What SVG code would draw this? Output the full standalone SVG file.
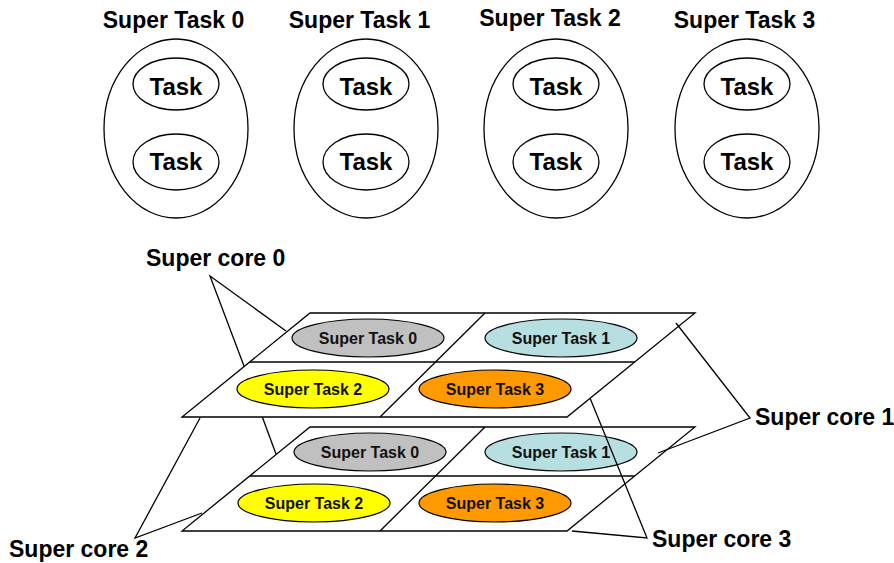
<svg xmlns="http://www.w3.org/2000/svg" width="894" height="563" viewBox="0 0 894 563">
  <style>
    .bg { fill: #ffffff; }
    .line { fill: none; stroke: #000; stroke-width: 1.3; }
    .shape { fill: #ffffff; stroke: #000; stroke-width: 1.3; }
    .title { font-family: "Liberation Sans", Arial, sans-serif; font-weight: bold; font-size: 23px; fill: #000; }
    .task { font-family: "Liberation Sans", Arial, sans-serif; font-weight: bold; font-size: 24px; fill: #000; text-anchor: middle; }
    .lbl { font-family: "Liberation Sans", Arial, sans-serif; font-weight: bold; font-size: 16px; fill: #111; text-anchor: middle; }
    .st0 { fill: #c0c0c0; stroke: #000; stroke-width: 1.2; }
    .st1 { fill: #b7dee0; stroke: #000; stroke-width: 1.2; }
    .st2 { fill: #ffff00; stroke: #000; stroke-width: 1.2; }
    .st3 { fill: #ff9900; stroke: #000; stroke-width: 1.2; }
  </style>
  <rect class="bg" x="0" y="0" width="894" height="563"/>

  <!-- Super tasks, each holding two tasks -->
  <g id="super-task-0">
    <text class="title" x="173.5" y="28" text-anchor="middle">Super Task 0</text>
    <ellipse class="shape" cx="176" cy="128.5" rx="72" ry="89.5"/>
    <ellipse class="shape" cx="176" cy="84" rx="43" ry="26"/>
    <text class="task" x="176" y="95">Task</text>
    <ellipse class="shape" cx="176" cy="162" rx="43" ry="28"/>
    <text class="task" x="176" y="170">Task</text>
  </g>
  <g id="super-task-1">
    <text class="title" x="359.5" y="28" text-anchor="middle">Super Task 1</text>
    <ellipse class="shape" cx="366" cy="128.5" rx="72" ry="89.5"/>
    <ellipse class="shape" cx="366" cy="84" rx="43" ry="26"/>
    <text class="task" x="366" y="95">Task</text>
    <ellipse class="shape" cx="366" cy="162" rx="43" ry="28"/>
    <text class="task" x="366" y="170">Task</text>
  </g>
  <g id="super-task-2">
    <text class="title" x="550" y="26" text-anchor="middle">Super Task 2</text>
    <ellipse class="shape" cx="556" cy="128.5" rx="72" ry="89.5"/>
    <ellipse class="shape" cx="556" cy="84" rx="43" ry="26"/>
    <text class="task" x="556" y="95">Task</text>
    <ellipse class="shape" cx="556" cy="162" rx="43" ry="28"/>
    <text class="task" x="556" y="170">Task</text>
  </g>
  <g id="super-task-3">
    <text class="title" x="744.5" y="28" text-anchor="middle">Super Task 3</text>
    <ellipse class="shape" cx="747" cy="128.5" rx="72" ry="89.5"/>
    <ellipse class="shape" cx="747" cy="84" rx="43" ry="26"/>
    <text class="task" x="747" y="95">Task</text>
    <ellipse class="shape" cx="747" cy="162" rx="43" ry="28"/>
    <text class="task" x="747" y="170">Task</text>
  </g>

  <!-- Lower layer: 2x2 grid of super tasks -->
  <g id="layer-bottom">
    <polygon class="shape" points="310,427 695,427 567,531 182,531"/>
    <line class="line" x1="249.7" y1="476" x2="634.7" y2="476"/>
    <line class="line" x1="485" y1="427" x2="380" y2="531"/>
    <ellipse class="st0" cx="370" cy="452" rx="76" ry="19"/>
    <text class="lbl" x="370" y="458">Super Task 0</text>
    <ellipse class="st1" cx="561" cy="452" rx="76" ry="19"/>
    <text class="lbl" x="561" y="458">Super Task 1</text>
    <ellipse class="st2" cx="314" cy="503" rx="76" ry="19"/>
    <text class="lbl" x="314" y="509">Super Task 2</text>
    <ellipse class="st3" cx="495" cy="503" rx="76" ry="19"/>
    <text class="lbl" x="495" y="509">Super Task 3</text>
  </g>

  <!-- Upper layer: 2x2 grid of super tasks -->
  <g id="layer-top">
    <polygon class="shape" points="310,313 695,313 567,417 182,417"/>
    <line class="line" x1="249.7" y1="362" x2="634.7" y2="362"/>
    <line class="line" x1="485" y1="313" x2="380" y2="417"/>
    <ellipse class="st0" cx="368" cy="338" rx="76" ry="19"/>
    <text class="lbl" x="368" y="344">Super Task 0</text>
    <ellipse class="st1" cx="561" cy="338" rx="76" ry="19"/>
    <text class="lbl" x="561" y="344">Super Task 1</text>
    <ellipse class="st2" cx="313" cy="389" rx="76" ry="19"/>
    <text class="lbl" x="313" y="395">Super Task 2</text>
    <ellipse class="st3" cx="495" cy="389" rx="76" ry="19"/>
    <text class="lbl" x="495" y="395">Super Task 3</text>
  </g>

  <!-- Callout lines from the super core labels -->
  <g id="connectors">
    <polyline class="line" points="286,331 210,276 244,366"/>
    <line class="line" x1="262.3" y1="417" x2="276" y2="454"/>
    <polyline class="line" points="200,418 135,538 202,513"/>
    <polyline class="line" points="676,323 750,418 658,453"/>
    <polyline class="line" points="572,531 647,538 590,398"/>
  </g>

  <g id="super-core-0"><text class="title" x="146" y="266">Super core 0</text></g>
  <g id="super-core-1"><text class="title" x="755" y="425">Super core 1</text></g>
  <g id="super-core-2"><text class="title" x="9" y="557">Super core 2</text></g>
  <g id="super-core-3"><text class="title" x="652" y="547">Super core 3</text></g>
</svg>
